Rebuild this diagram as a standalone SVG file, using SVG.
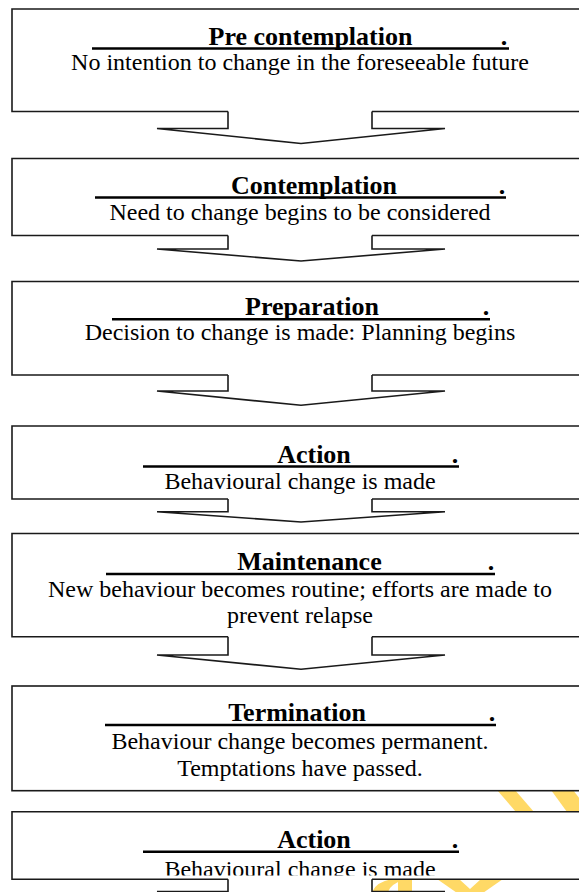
<svg xmlns="http://www.w3.org/2000/svg" width="579" height="892" viewBox="0 0 579 892">
  <defs>
    <style>
      .box { fill: #ffffff; stroke: #1a1a1a; stroke-width: 1.6; }
      .notch { fill: #ffffff; stroke: #1a1a1a; stroke-width: 1.6; stroke-linejoin: miter; }
      .title { font-family: "Liberation Serif", "Times New Roman", serif; font-size: 26px; font-weight: bold; fill: #000; text-anchor: middle; }
      .sub { font-family: "Liberation Serif", "Times New Roman", serif; font-size: 24px; fill: #000; text-anchor: middle; }
      .ul { stroke: #000; stroke-width: 2.6; }
      .wm { fill: #ffd966; }
    </style>
    <clipPath id="clip7">
      <rect x="12" y="812" width="570" height="63.5"/>
    </clipPath>
  </defs>
  <rect width="579" height="892" fill="#ffffff"/>

  <!-- watermark fragments -->
  <g id="watermark">
    <polygon class="wm" points="497,790 515,790 534,812 516,812"/>
    <polygon class="wm" points="551,790 573,790 590,812 567,812"/>
    <polygon class="wm" points="437,879 459,879 470,889 481,879 503,879 480,895 460,895"/>
    <path class="wm" d="M372,892 Q376,882 392,879 L406,879 Q390,884 388,892 Z"/>
    <polygon class="wm" points="398,879 412,879 412,892 398,892"/>
  </g>

  <g id="node-precontemplation">
    <path class="box" d="M228,111.5 L12,111.5 L12,9 L585,9 L585,111.5 L372,111.5"/>
    <line class="ul" x1="92" y1="48.5" x2="509" y2="48.5"/>
    <text class="title" x="310.5" y="44.5">Pre contemplation</text>
    <text class="title" x="504" y="44.5">.</text>
    <text class="sub" x="300" y="69.5">No intention to change in the foreseeable future</text>
  </g>

  <g id="node-contemplation">
    <path class="box" d="M228,235.5 L12,235.5 L12,158.5 L585,158.5 L585,235.5 L372,235.5"/>
    <line class="ul" x1="95" y1="197.5" x2="506" y2="197.5"/>
    <text class="title" x="314" y="193.5">Contemplation</text>
    <text class="title" x="502" y="193.5">.</text>
    <text class="sub" x="300" y="220">Need to change begins to be considered</text>
  </g>

  <g id="node-preparation">
    <path class="box" d="M228,375 L12,375 L12,281.5 L585,281.5 L585,375 L372,375"/>
    <line class="ul" x1="112" y1="319.3" x2="490" y2="319.3"/>
    <text class="title" x="312" y="314.5">Preparation</text>
    <text class="title" x="486" y="314.5">.</text>
    <text class="sub" x="300" y="339.5">Decision to change is made: Planning begins</text>
  </g>

  <g id="node-action">
    <path class="box" d="M228,499 L12,499 L12,426 L585,426 L585,499 L372,499"/>
    <line class="ul" x1="143" y1="466.5" x2="459" y2="466.5"/>
    <text class="title" x="314" y="462.5">Action</text>
    <text class="title" x="455" y="462.5">.</text>
    <text class="sub" x="300" y="488.5">Behavioural change is made</text>
  </g>

  <g id="node-maintenance">
    <path class="box" d="M228,636.7 L12,636.7 L12,533.5 L585,533.5 L585,636.7 L372,636.7"/>
    <line class="ul" x1="106" y1="574" x2="495" y2="574"/>
    <text class="title" x="309.5" y="570">Maintenance</text>
    <text class="title" x="491" y="570">.</text>
    <text class="sub" x="300" y="596.5">New behaviour becomes routine; efforts are made to</text>
    <text class="sub" x="300" y="623">prevent relapse</text>
  </g>

  <g id="node-termination">
    <rect class="box" x="12" y="686" width="573" height="104.7"/>
    <line class="ul" x1="105" y1="725" x2="496" y2="725"/>
    <text class="title" x="297" y="721">Termination</text>
    <text class="title" x="492" y="721">.</text>
    <text class="sub" x="300" y="749.3">Behaviour change becomes permanent.</text>
    <text class="sub" x="300" y="775.5">Temptations have passed.</text>
  </g>

  <g id="node-action-2">
    <path class="box" d="M228,879.3 L12,879.3 L12,811.7 L585,811.7 L585,879.3 L372,879.3"/>
    <line class="ul" x1="143" y1="851.7" x2="459" y2="851.7"/>
    <text class="title" x="314" y="847.5">Action</text>
    <text class="title" x="455" y="847.5">.</text>
    <text class="sub" x="300" y="876.5" clip-path="url(#clip7)">Behavioural change is made</text>
  </g>

  <g id="connectors">
    <path class="notch" d="M228,111.5 L228,128.5 L157,128.5 L301,143.5 L445,128.5 L372,128.5 L372,111.5"/>
    <path class="notch" d="M228,235.5 L228,249 L157,249 L301,261 L445,249 L372,249 L372,235.5"/>
    <path class="notch" d="M228,375 L228,391 L157,391 L301,405.3 L445,391 L372,391 L372,375"/>
    <path class="notch" d="M228,499 L228,511.7 L157,511.7 L301,522 L445,511.7 L372,511.7 L372,499"/>
    <path class="notch" d="M228,636.7 L228,655 L157,655 L301,669.3 L445,655 L372,655 L372,636.7"/>
    <path class="notch" d="M228,879.3 L228,891.5 L157,891.5 L301,905 L445,891.5 L372,891.5 L372,879.3"/>
  </g>
</svg>
